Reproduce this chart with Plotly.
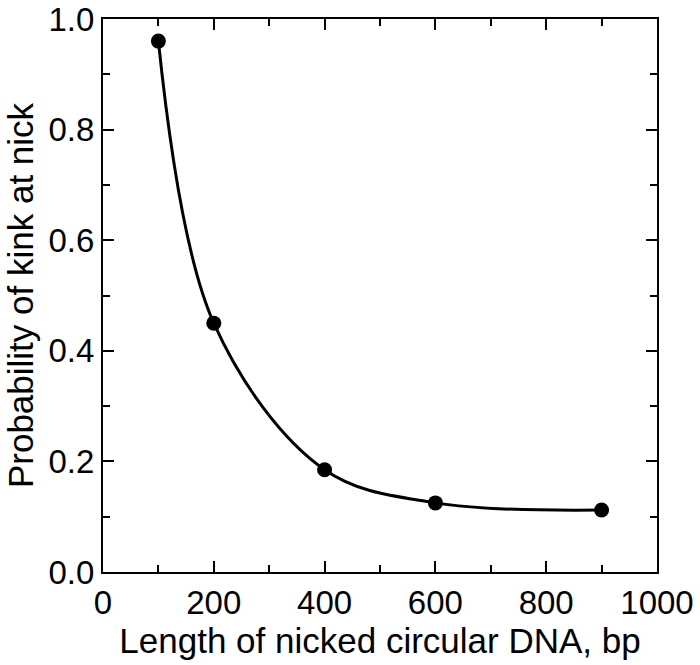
import plotly.graph_objects as go

lengths_bp = [100, 200, 400, 600, 900]
kink_prob = [0.96, 0.45, 0.185, 0.125, 0.112]
x_tick_vals = [0, 200, 400, 600, 800, 1000]
y_tick_vals = [0.0, 0.2, 0.4, 0.6, 0.8, 1.0]
y_tick_text = ["0.0", "0.2", "0.4", "0.6", "0.8", "1.0"]

fig = go.Figure()
fig.add_trace(go.Scatter(
    x=lengths_bp, y=kink_prob, mode="lines+markers",
    line=dict(color="black", width=3, shape="spline", smoothing=1.0),
    marker=dict(color="black", size=15),
    showlegend=False, cliponaxis=False,
))

fam = "Liberation Sans, Arial, sans-serif"
tick_font = dict(family=fam, size=33, color="black")
title_font = dict(family=fam, size=35, color="black")
axis_common = dict(
    showline=True, linecolor="black", linewidth=2, mirror="allticks",
    ticks="inside", ticklen=11, tickwidth=2, tickcolor="black",
    showgrid=False, zeroline=False, tickfont=tick_font, automargin=False,
)
fig.update_xaxes(
    range=[0, 1000], tickvals=x_tick_vals,
    title=dict(text="Length of nicked circular DNA, bp", font=title_font, standoff=6),
    minor=dict(ticks="inside", dtick=100, ticklen=7, tickwidth=2, tickcolor="black", showgrid=False),
    **axis_common,
)
fig.update_yaxes(
    range=[0, 1.0], tickvals=y_tick_vals, ticktext=y_tick_text,
    title=dict(text="Probability of kink at nick", font=title_font, standoff=4),
    minor=dict(ticks="inside", dtick=0.1, ticklen=7, tickwidth=2, tickcolor="black", showgrid=False),
    **axis_common,
)
fig.update_layout(
    width=700, height=665,
    margin=dict(l=103, r=43, t=19, b=93),
    plot_bgcolor="white", paper_bgcolor="white",
    font=tick_font,
)
fig.write_html(
    "out.html",
    config={"displayModeBar": False},
    post_script="document.body.style.margin='0';",
)
